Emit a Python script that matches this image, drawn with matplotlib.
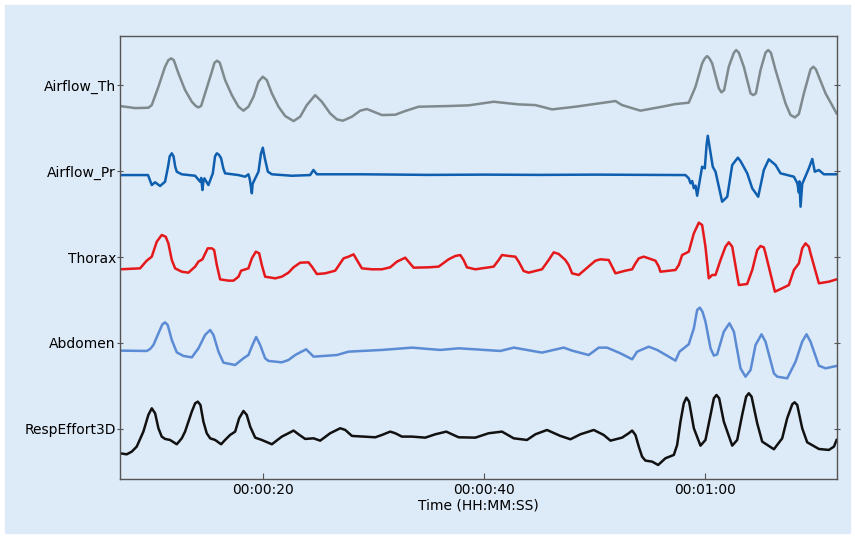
import numpy as np
import matplotlib.pyplot as plt
from matplotlib.patches import Rectangle

channels = ['Airflow_Th', 'Airflow_Pr', 'Thorax', 'Abdomen', 'RespEffort3D']
tick_seconds = [20, 40, 60]
tick_labels = ['00:00:20', '00:00:40', '00:01:00']

# samples: (seconds, amplitude)
airflow_th = [
    (7.06, -0.244), (8.42, -0.268), (9.62, -0.264), (9.93, -0.233), (10.53, -0.02),
    (11.13, 0.213), (11.43, 0.290), (11.68, 0.310), (11.92, 0.290), (12.34, 0.136),
    (12.94, -0.058), (13.55, -0.194), (13.91, -0.244), (14.15, -0.260), (14.39, -0.244),
    (14.75, -0.097), (15.36, 0.155), (15.60, 0.260), (15.84, 0.283), (16.08, 0.260),
    (16.56, 0.058), (17.17, -0.117), (17.77, -0.252), (18.22, -0.298), (18.67, -0.252),
    (19.13, -0.136), (19.58, 0.039), (19.97, 0.097), (20.33, 0.058), (20.79, -0.097),
    (21.39, -0.252), (21.99, -0.360), (22.75, -0.419), (23.35, -0.368), (23.95, -0.233),
    (24.71, -0.117), (25.31, -0.194), (26.06, -0.330), (26.67, -0.399), (27.21, -0.415),
    (28.03, -0.368), (28.78, -0.298), (29.38, -0.279), (29.99, -0.310), (30.74, -0.349),
    (31.95, -0.345), (32.85, -0.302), (34.06, -0.252), (36.77, -0.244), (38.58, -0.236),
    (39.19, -0.225), (40.85, -0.194), (43.11, -0.225), (44.62, -0.233), (46.13, -0.283),
    (48.24, -0.252), (51.86, -0.186), (52.46, -0.233), (54.12, -0.298), (56.08, -0.252),
    (57.29, -0.221), (58.49, -0.205), (59.10, -0.02), (59.70, 0.252), (59.94, 0.310),
    (60.15, 0.337), (60.36, 0.310), (60.61, 0.252), (61.21, -0.039), (61.45, -0.085),
    (61.69, -0.058), (62.11, 0.213), (62.57, 0.376), (62.78, 0.407), (63.02, 0.376),
    (63.47, 0.213), (64.08, -0.097), (64.32, -0.117), (64.56, -0.097), (64.98, 0.175),
    (65.43, 0.376), (65.67, 0.407), (65.92, 0.376), (66.34, 0.175), (67.24, -0.213),
    (67.69, -0.349), (68.09, -0.376), (68.45, -0.337), (68.90, -0.097), (69.50, 0.182),
    (69.75, 0.213), (69.99, 0.182), (70.86, -0.097), (71.86, -0.330),
]
airflow_pr = [
    (7.06, -0.047), (9.59, -0.047), (9.93, -0.163), (10.23, -0.131), (10.68, -0.174),
    (11.13, -0.124), (11.4, 0.05), (11.55, 0.17), (11.74, 0.206), (11.9, 0.17),
    (12.05, 0.05), (12.19, -0.008), (12.64, -0.038), (13.85, -0.055), (14.3, -0.124),
    (14.4, -0.08), (14.51, -0.221), (14.6, -0.12), (14.69, -0.085), (15.05, -0.163),
    (15.45, -0.027), (15.65, 0.17), (15.81, 0.206), (16.0, 0.19), (16.2, 0.148),
    (16.4, 0.03), (16.56, -0.027), (17.77, -0.047), (18.37, -0.066), (18.67, -0.038),
    (18.8, -0.1), (18.98, -0.259), (19.05, -0.15), (19.21, -0.105), (19.58, -0.008),
    (19.8, 0.2), (19.97, 0.271), (20.15, 0.15), (20.43, -0.008), (20.79, -0.038),
    (22.6, -0.055), (24.25, -0.047), (24.55, 0.012), (24.86, -0.038), (28.93, -0.038),
    (35.0, -0.045), (40.0, -0.042), (45.0, -0.045), (50.0, -0.042), (55.0, -0.045),
    (58.19, -0.047), (58.49, -0.085), (58.65, -0.143), (58.8, -0.116), (58.95, -0.2),
    (59.1, -0.17), (59.25, -0.287), (59.7, 0.05), (59.94, 0.031), (60.1, 0.3),
    (60.21, 0.41), (60.35, 0.3), (60.66, 0.05), (60.91, -0.008), (61.51, -0.357),
    (61.97, -0.299), (62.42, 0.07), (62.93, 0.155), (63.17, 0.116), (63.78, -0.027),
    (64.23, -0.201), (64.77, -0.299), (65.28, 0.012), (65.73, 0.136), (66.34, 0.07),
    (66.79, -0.027), (68.0, -0.066), (68.31, -0.143), (68.45, -0.25), (68.5, -0.12),
    (68.6, -0.415), (68.75, -0.15), (68.9, -0.105), (69.35, 0.031), (69.66, 0.14),
    (69.89, -0.008), (70.25, 0.012), (70.71, -0.038), (71.86, -0.038),
]
thorax = [
    (7.06, -0.143), (8.87, -0.132), (9.47, -0.043), (9.93, 0.004), (10.38, 0.178),
    (10.83, 0.256), (11.19, 0.236), (11.43, 0.159), (11.74, -0.035), (12.04, -0.132),
    (12.64, -0.171), (13.24, -0.182), (13.85, -0.112), (14.15, -0.054), (14.51, -0.027),
    (14.99, 0.101), (15.36, 0.101), (15.57, 0.081), (15.81, -0.093), (16.11, -0.260),
    (16.86, -0.275), (17.32, -0.275), (17.77, -0.229), (18.01, -0.159), (18.67, -0.132),
    (18.98, -0.016), (19.34, 0.062), (19.64, 0.043), (19.88, -0.093), (20.18, -0.229),
    (21.09, -0.248), (21.69, -0.229), (22.29, -0.182), (22.75, -0.120), (23.35, -0.066),
    (24.10, -0.062), (24.41, -0.112), (24.86, -0.198), (25.61, -0.190), (26.52, -0.159),
    (27.27, -0.016), (27.72, 0.004), (28.18, 0.031), (28.48, -0.035), (28.93, -0.132),
    (29.84, -0.143), (30.74, -0.143), (31.49, -0.120), (32.10, -0.054), (32.85, -0.008),
    (33.15, -0.054), (33.61, -0.124), (34.96, -0.120), (35.87, -0.112), (36.77, -0.027),
    (37.38, 0.012), (37.83, 0.023), (38.13, -0.035), (38.43, -0.120), (39.19, -0.143),
    (40.85, -0.112), (41.30, -0.035), (41.60, 0.023), (42.20, 0.012), (42.81, 0.004),
    (43.11, -0.054), (43.56, -0.163), (44.01, -0.182), (45.22, -0.143), (45.82, -0.035),
    (46.28, 0.054), (46.73, 0.035), (47.33, -0.035), (47.63, -0.093), (47.94, -0.190),
    (48.54, -0.209), (49.59, -0.093), (50.05, -0.043), (50.50, -0.027), (51.25, -0.035),
    (51.56, -0.112), (51.86, -0.190), (52.76, -0.159), (53.37, -0.143), (53.67, -0.074),
    (53.97, -0.016), (54.42, 0.004), (55.48, -0.043), (55.78, -0.112), (55.93, -0.171),
    (57.29, -0.151), (57.59, -0.093), (57.89, 0.023), (58.49, 0.062), (58.95, 0.275),
    (59.40, 0.399), (59.70, 0.372), (60.00, 0.120), (60.30, -0.248), (60.61, -0.209),
    (60.91, -0.209), (61.36, -0.035), (61.81, 0.120), (62.11, 0.171), (62.42, 0.120),
    (63.02, -0.326), (63.77, -0.314), (64.23, -0.151), (64.68, 0.081), (64.98, 0.128),
    (65.28, 0.112), (65.43, 0.043), (66.28, -0.403), (66.94, -0.364), (67.54, -0.326),
    (68.00, -0.151), (68.45, -0.074), (68.75, 0.101), (69.05, 0.159), (69.35, 0.120),
    (69.50, 0.043), (70.26, -0.306), (71.16, -0.287), (71.86, -0.260),
]
abdomen = [
    (7.06, -0.089), (9.47, -0.093), (9.78, -0.070), (10.08, -0.023), (10.53, 0.112),
    (10.89, 0.217), (11.13, 0.240), (11.37, 0.209), (11.74, 0.035), (12.19, -0.109),
    (12.79, -0.151), (13.55, -0.167), (14.15, -0.062), (14.75, 0.093), (15.21, 0.151),
    (15.51, 0.093), (15.96, -0.101), (16.41, -0.229), (17.47, -0.256), (18.22, -0.178),
    (18.67, -0.140), (19.04, -0.023), (19.37, 0.070), (19.73, -0.023), (20.18, -0.178),
    (20.48, -0.209), (21.69, -0.225), (22.29, -0.198), (22.90, -0.140), (23.35, -0.109),
    (23.89, -0.074), (24.26, -0.120), (24.56, -0.159), (25.91, -0.147), (26.67, -0.140),
    (27.72, -0.101), (30.74, -0.081), (33.46, -0.054), (36.02, -0.081), (37.68, -0.062),
    (39.19, -0.074), (41.45, -0.093), (42.66, -0.054), (45.22, -0.112), (47.18, -0.054),
    (47.94, -0.089), (49.44, -0.140), (50.35, -0.054), (51.10, -0.054), (52.31, -0.120),
    (53.37, -0.190), (53.82, -0.101), (54.87, -0.043), (55.63, -0.081), (56.68, -0.159),
    (57.29, -0.206), (57.65, -0.101), (58.49, -0.015), (58.95, 0.170), (59.25, 0.384),
    (59.49, 0.411), (59.73, 0.364), (60.00, 0.248), (60.46, -0.062), (60.76, -0.147),
    (61.06, -0.132), (61.66, 0.132), (62.17, 0.229), (62.57, 0.132), (63.17, -0.295),
    (63.62, -0.392), (64.08, -0.314), (64.53, -0.023), (65.07, 0.101), (65.43, 0.016),
    (66.19, -0.353), (66.49, -0.392), (67.39, -0.411), (68.15, -0.217), (68.75, 0.016),
    (69.14, 0.101), (69.50, 0.016), (70.26, -0.264), (70.86, -0.295), (71.86, -0.267),
]
resp_effort = [
    (7.06, -0.283), (7.66, -0.295), (8.12, -0.264), (8.57, -0.205), (9.17, -0.031),
    (9.62, 0.163), (9.93, 0.240), (10.23, 0.182), (10.53, 0.008), (10.83, -0.089),
    (11.13, -0.116), (11.58, -0.128), (12.19, -0.178), (12.64, -0.109), (12.94, -0.031),
    (13.55, 0.202), (13.85, 0.298), (14.09, 0.318), (14.33, 0.279), (14.60, 0.085),
    (14.90, -0.050), (15.21, -0.109), (15.66, -0.128), (16.20, -0.178), (16.56, -0.128),
    (17.01, -0.070), (17.47, -0.031), (17.83, 0.124), (18.22, 0.209), (18.52, 0.163),
    (18.83, 0.027), (19.28, -0.101), (19.88, -0.128), (20.79, -0.178), (21.69, -0.089),
    (22.29, -0.050), (22.75, -0.019), (23.20, -0.062), (23.80, -0.116), (24.56, -0.109),
    (25.16, -0.136), (26.06, -0.050), (26.97, 0.008), (27.42, -0.011), (28.03, -0.081),
    (30.14, -0.097), (30.74, -0.070), (31.49, -0.031), (31.95, -0.050), (32.55, -0.089),
    (33.46, -0.089), (34.66, -0.101), (35.57, -0.062), (36.56, -0.031), (37.08, -0.062),
    (37.68, -0.097), (39.19, -0.101), (40.39, -0.050), (41.60, -0.031), (42.66, -0.109),
    (43.86, -0.128), (44.62, -0.062), (45.67, -0.012), (46.88, -0.081), (47.79, -0.120),
    (48.69, -0.062), (49.90, -0.012), (50.80, -0.070), (51.41, -0.136), (52.46, -0.101),
    (53.06, -0.050), (53.37, -0.019), (53.67, -0.070), (53.97, -0.205), (54.27, -0.322),
    (54.57, -0.368), (55.18, -0.380), (55.72, -0.419), (56.38, -0.341), (57.14, -0.302),
    (57.44, -0.186), (57.74, 0.085), (58.04, 0.298), (58.28, 0.364), (58.52, 0.318),
    (58.95, 0.008), (59.55, -0.194), (60.00, -0.128), (60.46, 0.163), (60.76, 0.357),
    (61.00, 0.395), (61.24, 0.357), (61.66, 0.085), (62.42, -0.194), (62.87, -0.128),
    (63.32, 0.163), (63.68, 0.376), (63.92, 0.415), (64.17, 0.376), (64.68, 0.066),
    (65.13, -0.147), (66.19, -0.236), (66.94, -0.109), (67.39, 0.124), (67.85, 0.287),
    (68.06, 0.310), (68.30, 0.279), (68.75, 0.008), (69.20, -0.155), (70.26, -0.233),
    (71.16, -0.244), (71.62, -0.205), (71.86, -0.128),
]

traces = [airflow_th, airflow_pr, thorax, abdomen, resp_effort]
colors = ['#7f8a8e', '#0f5fb0', '#e5181b', '#5b8bd4', '#111111']
offsets = [4, 3, 2, 1, 0]

bg = '#ddeaf7'
fig = plt.figure(figsize=(8.55, 5.38), dpi=100, facecolor='white')
fig.patches.append(Rectangle((5 / 855, 5 / 538), 845 / 855, 528 / 538,
                             transform=fig.transFigure, color=bg, zorder=-1))
ax = fig.add_axes([0.1404, 0.110, 0.8386, 0.823])
ax.set_facecolor(bg)

for trace, color, off in zip(traces, colors, offsets):
    t = np.array([p[0] for p in trace])
    v = np.array([p[1] for p in trace])
    ax.plot(t, v + off, color=color, lw=1.8, solid_joinstyle='round')

ax.set_xlim(7.06, 71.9)
ax.set_ylim(-0.58, 4.57)
ax.set_yticks(offsets)
ax.set_yticklabels(channels, fontsize=10)
ax.set_xticks(tick_seconds)
ax.set_xticklabels(tick_labels, fontsize=10)
ax.set_xlabel('Time (HH:MM:SS)', fontsize=10, labelpad=1)

for s in ax.spines.values():
    s.set_color('#555555')
    s.set_linewidth(1.0)
ax.tick_params(direction='inout', length=4, color='#555555', top=False, right=True)
ax.tick_params(axis='x', direction='in', pad=3)
ax.tick_params(axis='y', pad=1)

fig.savefig('out.png', dpi=100, facecolor='white')
